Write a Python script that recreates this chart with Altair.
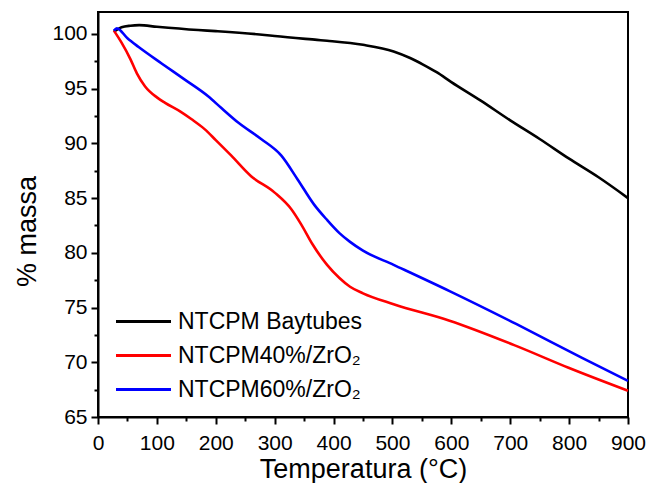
import altair as alt
import pandas as pd

series_names = ["NTCPM Baytubes", "NTCPM40%/ZrO₂", "NTCPM60%/ZrO₂"]
series_colors = ["#000000", "#FF0000", "#0000FF"]

bay_t = [27, 40, 55, 70, 100, 170, 200, 283, 300, 372, 389, 450, 502, 530, 552, 575, 600, 650, 700, 750, 800, 850, 900]
bay_m = [100.2, 100.6, 100.75, 100.8, 100.65, 100.35, 100.25, 99.9, 99.8, 99.45, 99.37, 99.0, 98.4, 97.8, 97.2, 96.5, 95.6, 93.9, 92.1, 90.4, 88.6, 86.9, 85.0]

r40_t = [27, 40, 55, 66, 80, 100, 114, 140, 159, 181, 200, 226, 260, 300, 328, 345, 364, 389, 410, 428, 450, 502, 597, 710, 799, 900]
r40_m = [100.3, 99.2, 97.7, 96.4, 95.2, 94.2, 93.7, 92.9, 92.2, 91.3, 90.3, 88.9, 87.0, 85.5, 84.0, 82.6, 80.8, 78.9, 77.7, 76.9, 76.3, 75.3, 73.8, 71.5, 69.5, 67.4]

b60_t = [27, 32, 50, 69, 108, 148, 187, 210, 238, 277, 311, 339, 367, 389, 410, 428, 450, 502, 597, 710, 822, 900]
b60_m = [100.3, 100.5, 99.6, 98.8, 97.3, 95.8, 94.3, 93.2, 91.9, 90.4, 88.9, 86.7, 84.4, 83.0, 81.8, 81.0, 80.2, 78.9, 76.5, 73.5, 70.4, 68.3]

x_ticks = list(range(0, 901, 50))
y_ticks = [65 + 2.5 * i for i in range(16)]

rows = []
for name, ts, ms in zip(series_names, [bay_t, r40_t, b60_t], [bay_m, r40_m, b60_m]):
    for t, m in zip(ts, ms):
        rows.append({"serie": name, "T": t, "massa": m})
df = pd.DataFrame(rows)

FONT = "Liberation Sans"

chart = alt.Chart(df).mark_line(strokeWidth=2.6, interpolate="monotone").encode(
    x=alt.X(
        "T:Q",
        scale=alt.Scale(domain=[0, 900], nice=False, zero=False),
        axis=alt.Axis(
            title="Temperatura (°C)",
            values=x_ticks,
            labelExpr="datum.value % 100 === 0 ? datum.label : ''",
            tickSize={"condition": {"test": "datum.value % 100 === 0", "value": 7}, "value": 4},
            labelPadding=8,
            titleY=60,
            titleBaseline="alphabetic",
            labelFlush=False,
        ),
    ),
    y=alt.Y(
        "massa:Q",
        scale=alt.Scale(domain=[65, 102], nice=False, zero=False),
        axis=alt.Axis(
            title="% massa",
            values=y_ticks,
            labelExpr="datum.value % 5 === 0 ? datum.label : ''",
            tickSize={"condition": {"test": "datum.value % 5 === 0", "value": 7}, "value": 4},
            labelPadding=4,
            titleX=-63,
            titleY=219,
            titleAlign="center",
            titleBaseline="alphabetic",
            labelFlush=False,
        ),
    ),
    color=alt.Color(
        "serie:N",
        scale=alt.Scale(domain=series_names, range=series_colors),
        sort=series_names,
        legend=alt.Legend(
            title=None,
            orient="none",
            legendX=33,
            legendY=297,
            symbolType="M-2.5,0H2.5",
            symbolSize=484,
            symbolStrokeWidth=3,
            labelFontSize=23,
            labelFont=FONT,
            labelColor="black",
            labelOffset=22,
            labelLimit=0,
            rowPadding=9,
            padding=0,
        ),
    ),
).properties(
    width=530,
    height=405,
    autosize=alt.AutoSizeParams(type="none"),
    padding={"left": 90, "top": 4, "right": 18, "bottom": 66},
    background="white",
).configure_view(
    stroke="black", strokeWidth=2
).configure_axis(
    domainColor="black",
    domainWidth=2,
    tickColor="black",
    tickWidth=2,
    grid=False,
    labelFont=FONT,
    labelFontSize=21,
    labelColor="black",
    titleFont=FONT,
    titleFontSize=27,
    titleFontWeight="normal",
    titleColor="black",
)

chart.save("out.html", embed_options={"renderer": "svg", "actions": False})
